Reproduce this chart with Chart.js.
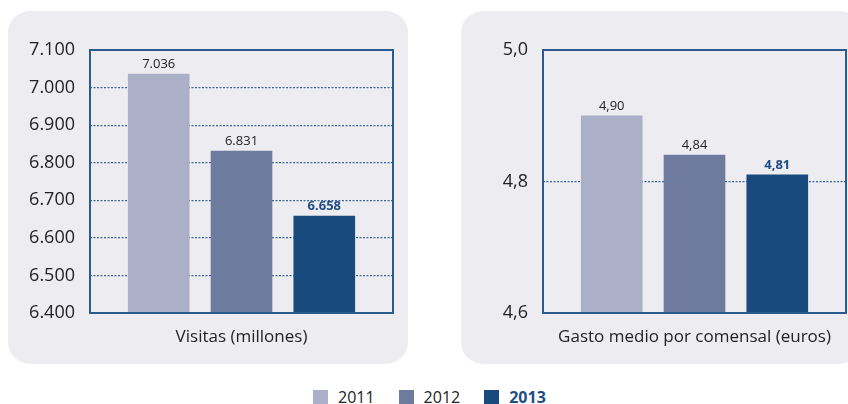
<!DOCTYPE html>
<html lang="es">
<head>
    <meta charset="UTF-8">
    <title>Visitas y gasto medio</title>
    <script src="https://cdn.jsdelivr.net/npm/chart.js"></script>
    <style>
        body { margin: 0; background: #fff; font-family: "Open Sans", sans-serif; }
        .wrap { position: relative; width: 848px; height: 404px; overflow: hidden; }
        .panel { position: absolute; top: 11px; height: 353px; background: #ededf1; border-radius: 22px; }
        #p1 { left: 8px; width: 400px; }
        #p2 { left: 461px; width: 400px; }
        .panel canvas { position: absolute; left: 0; top: 0; }
        .leyenda { position: absolute; top: 386px; left: 313px; display: flex; font-size: 16px; color: #222; }
        .leyenda span { display: flex; align-items: center; margin-right: 24px; }
        .leyenda i { display: inline-block; width: 15px; height: 15px; margin-right: 10px; }
    </style>
</head>
<body>
<div class="wrap">
    <div class="panel" id="p1"><canvas id="graficoVisitas" width="400" height="353"></canvas></div>
    <div class="panel" id="p2"><canvas id="graficoGasto" width="400" height="353"></canvas></div>
    <div class="leyenda" id="leyenda"></div>
</div>

<script>
    // Datos
    const anios = ['2011', '2012', '2013'];
    const visitas = [7036, 6831, 6658];       // millones
    const gastoMedio = [4.90, 4.84, 4.81];    // euros
    const colores = ['#abb0c8', '#6f7a9f', '#184a7d'];

    const azulBorde = '#2b5a8d';
    const fuente = '"Open Sans", sans-serif';

    // Etiquetas de valor sobre cada barra + marco del área del gráfico
    const etiquetasPlugin = {
        id: 'etiquetas',
        afterDatasetsDraw(chart, args, opts) {
            const ctx = chart.ctx;
            const area = chart.chartArea;
            ctx.save();
            ctx.strokeStyle = azulBorde;
            ctx.lineWidth = 2;
            ctx.strokeRect(area.left, area.top, area.right - area.left, area.bottom - area.top);

            const meta = chart.getDatasetMeta(0);
            const datos = opts.valores;
            ctx.textAlign = 'center';
            ctx.textBaseline = 'bottom';
            meta.data.forEach((bar, i) => {
                const ultimo = i === datos.length - 1;
                ctx.font = (ultimo ? 'bold ' : '') + '13px ' + fuente;
                ctx.fillStyle = ultimo ? '#1f4e85' : '#222';
                ctx.fillText(opts.formato(datos[i]), bar.x, bar.y - 3);
            });
            ctx.restore();
        }
    };

    function crearGrafico(id, valores, min, max, paso, formatoEje, formatoValor, titulo) {
        return new Chart(document.getElementById(id), {
            type: 'bar',
            data: {
                labels: anios,
                datasets: [{
                    // posición x = índice del año (escala lineal para dejar margen a los lados)
                    data: valores.map((v, i) => ({ x: i, y: v })),
                    backgroundColor: colores,
                    barThickness: 61
                }]
            },
            options: {
                responsive: false,
                animation: false,
                layout: { padding: { top: 39, right: 15, bottom: 0, left: 0 } },
                plugins: {
                    legend: { display: false },
                    tooltip: { enabled: false },
                    etiquetas: { formato: formatoValor, valores: valores }
                },
                scales: {
                    x: {
                        type: 'linear',
                        min: -0.83,
                        max: 2.83,
                        offset: false,
                        grid: { display: false },
                        border: { display: false },
                        ticks: { display: false },
                        title: {
                            display: true,
                            text: titulo,
                            color: '#222',
                            font: { family: fuente, size: 17 },
                            padding: { top: 0, bottom: 17 }
                        },
                        afterFit(scale) { scale.height = 51; }
                    },
                    y: {
                        min: min,
                        max: max,
                        ticks: {
                            stepSize: paso,
                            padding: 15,
                            color: '#222',
                            font: { family: fuente, size: 18 },
                            callback: v => formatoEje(v)
                        },
                        grid: {
                            drawTicks: false,
                            lineWidth: 1.2,
                            color: c => (c.index === 0 || c.tick.value >= max - 1e-9) ? 'rgba(0,0,0,0)' : '#3c6496'
                        },
                        border: { display: false, dash: [2, 1.5] },
                        afterFit(scale) { scale.width = 82; }
                    }
                }
            },
            plugins: [etiquetasPlugin]
        });
    }

    const miles = v => Math.round(v).toString().replace(/\B(?=(\d{3})+(?!\d))/g, '.');

    crearGrafico('graficoVisitas', visitas, 6400, 7100, 100, miles, miles, 'Visitas (millones)');
    crearGrafico('graficoGasto', gastoMedio, 4.6, 5.0, 0.2,
        v => v.toFixed(1).replace('.', ','),
        v => v.toFixed(2).replace('.', ','),
        'Gasto medio por comensal (euros)');

    // Leyenda común
    const leyenda = document.getElementById('leyenda');
    anios.forEach((a, i) => {
        const ultimo = i === anios.length - 1;
        const s = document.createElement('span');
        s.innerHTML = '<i style="background:' + colores[i] + '"></i>' +
            (ultimo ? '<b style="color:#1f4e85">' + a + '</b>' : a);
        leyenda.appendChild(s);
    });
</script>
</body>
</html>
